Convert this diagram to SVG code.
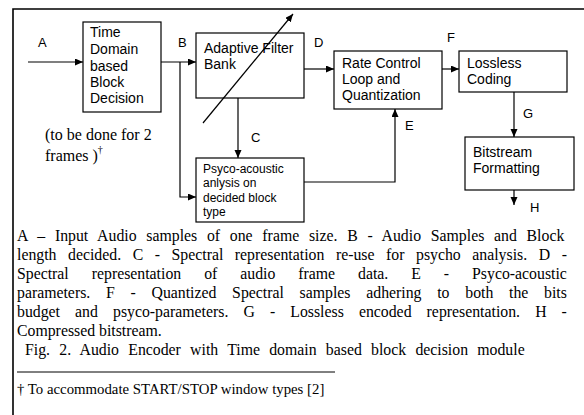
<svg xmlns="http://www.w3.org/2000/svg" width="584" height="415" viewBox="0 0 584 415">
<style>
.box{fill:#fff;stroke:#000;stroke-width:1.2}
.t{font-family:"Liberation Sans",Arial,sans-serif;font-size:14px;fill:#000}
.ts{font-family:"Liberation Sans",Arial,sans-serif;font-size:12px;fill:#000}
.lbl{font-family:"Liberation Sans",Arial,sans-serif;font-size:13px;fill:#000}
.cap{font-family:"Liberation Serif","Times New Roman",serif;font-size:15.8px;fill:#000}
.note{font-family:"Liberation Serif","Times New Roman",serif;font-size:16px;fill:#000}
.fn{font-family:"Liberation Serif","Times New Roman",serif;font-size:14.8px;fill:#000}
.conn path{fill:none;stroke:#000;stroke-width:1.2}
</style>
<defs>
<marker id="ah" markerUnits="userSpaceOnUse" markerWidth="9" markerHeight="8" refX="8" refY="3.5" orient="auto">
<path d="M0,0 L8,3.5 L0,7 z" fill="#000"/>
</marker>
</defs>
<rect x="0" y="0" width="584" height="415" fill="#fff"/>
<path d="M13,415 V9 H584" fill="none" stroke="#000" stroke-width="1.6"/>

<g id="n-time">
<rect class="box" x="83" y="22" width="78" height="90"/>
<text class="t" x="90" y="37">Time</text>
<text class="t" x="90" y="54">Domain</text>
<text class="t" x="90" y="71">based</text>
<text class="t" x="90" y="87">Block</text>
<text class="t" x="90" y="103">Decision</text>
</g>
<g id="n-filter">
<rect class="box" x="196" y="33" width="108" height="65"/>
<text class="t" x="204" y="53">Adaptive Filter</text>
<text class="t" x="204" y="69">Bank</text>
</g>
<g id="n-psyco">
<rect class="box" x="196" y="158" width="108" height="64"/>
<text class="ts" x="203" y="173">Psyco-acoustic</text>
<text class="ts" x="203" y="187">anlysis on</text>
<text class="ts" x="203" y="202">decided block</text>
<text class="ts" x="203" y="216">type</text>
</g>
<g id="n-rate">
<rect class="box" x="334" y="51" width="108" height="58"/>
<text class="t" x="342" y="68">Rate Control</text>
<text class="t" x="342" y="84">Loop and</text>
<text class="t" x="342" y="100">Quantization</text>
</g>
<g id="n-lossless">
<rect class="box" x="459" y="51" width="108" height="41"/>
<text class="t" x="467" y="68">Lossless</text>
<text class="t" x="467" y="84">Coding</text>
</g>
<g id="n-bitstream">
<rect class="box" x="465" y="137" width="109" height="53"/>
<text class="t" x="473" y="157">Bitstream</text>
<text class="t" x="473" y="173">Formatting</text>
</g>

<g class="conn" id="connectors">
<path d="M28,62 H83" marker-end="url(#ah)"/>
<path d="M161,62 H196" marker-end="url(#ah)"/>
<path d="M180,62 V197 H196" marker-end="url(#ah)"/>
<path d="M238,98 V158" marker-end="url(#ah)"/>
<path d="M304,69 H334" marker-end="url(#ah)"/>
<path d="M304,182 H395 V109" marker-end="url(#ah)"/>
<path d="M442,69 H459" marker-end="url(#ah)"/>
<path d="M514,92 V137" marker-end="url(#ah)"/>
<path d="M514,190 V205" marker-end="url(#ah)"/>
<path d="M203,123 L293,14" marker-end="url(#ah)"/>
</g>

<g id="labels">
<text class="lbl" x="38" y="47">A</text>
<text class="lbl" x="178" y="47">B</text>
<text class="lbl" x="251" y="142">C</text>
<text class="lbl" x="314" y="47">D</text>
<text class="lbl" x="405" y="130">E</text>
<text class="lbl" x="447" y="42">F</text>
<text class="lbl" x="523" y="118">G</text>
<text class="lbl" x="530" y="212">H</text>
</g>

<g id="note">
<text class="note" x="45" y="140">(to be done for 2</text>
<text class="note" x="45" y="161">frames )<tspan font-size="10" dy="-8">†</tspan></text>
</g>

<g id="caption">
<text class="cap" x="17" y="241" style="word-spacing:5.78px">A – Input Audio samples of one frame size. B - Audio Samples and Block</text>
<text class="cap" x="17" y="260" style="word-spacing:7.6px">length decided. C - Spectral representation re-use for psycho analysis. D -</text>
<text class="cap" x="17" y="279" style="word-spacing:19px">Spectral representation of audio frame data. E - Psyco-acoustic</text>
<text class="cap" x="17" y="298" style="word-spacing:11.78px">parameters. F - Quantized Spectral samples adhering to both the bits</text>
<text class="cap" x="17" y="317" style="word-spacing:11.14px">budget and psyco-parameters. G - Lossless encoded representation. H -</text>
<text class="cap" x="17" y="336">Compressed bitstream.</text>
<text class="cap" x="25" y="355" style="word-spacing:5.3px">Fig. 2. Audio Encoder with Time domain based block decision module</text>
<line x1="17" y1="372" x2="335" y2="372" stroke="#000" stroke-width="1"/>
<text class="fn" x="17" y="394">† To accommodate START/STOP window types [2]</text>
</g>
</svg>
